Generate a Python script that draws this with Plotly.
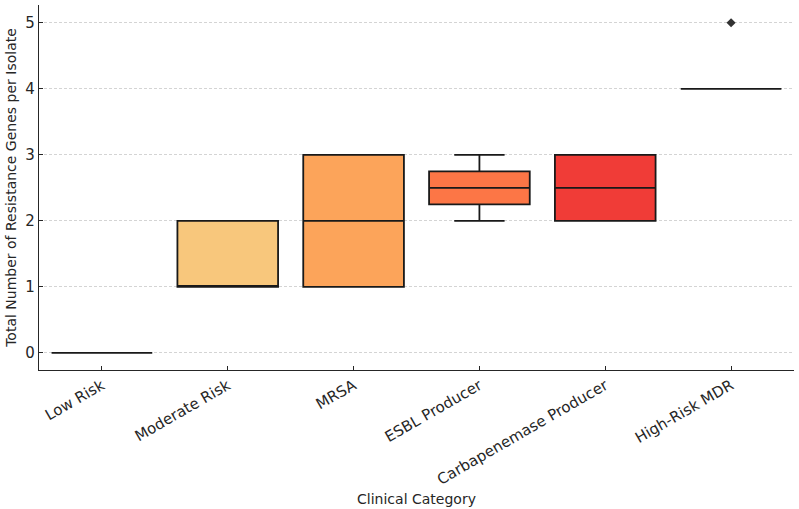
import plotly.graph_objects as go

categories = ["Low Risk", "Moderate Risk", "MRSA", "ESBL Producer",
              "Carbapenemase Producer", "High-Risk MDR"]
q1 = [0, 1, 1, 2.25, 2, 4]
median = [0, 1, 2, 2.5, 2.5, 4]
q3 = [0, 2, 3, 2.75, 3, 4]
lower = [0, 1, 1, 2, 2, 4]
upper = [0, 2, 3, 3, 3, 4]
outlier_cat = ["High-Risk MDR"]
outlier_val = [5]
colors = ["#fbe38a", "#f8c77c", "#fca45a", "#fc7646", "#f03c37", "#c8182a"]

fig = go.Figure()
for i, c in enumerate(categories):
    fig.add_trace(go.Box(
        x=[c], q1=[q1[i]], median=[median[i]], q3=[q3[i]],
        lowerfence=[lower[i]], upperfence=[upper[i]],
        fillcolor=colors[i], line=dict(color="rgb(25,25,25)", width=1.8),
        width=0.8, whiskerwidth=0.5, showlegend=False, boxpoints=False,
        hoverinfo="skip"))

fig.add_trace(go.Scatter(
    x=outlier_cat, y=outlier_val, mode="markers",
    marker=dict(symbol="diamond", size=7, color="rgb(50,50,50)"),
    showlegend=False, hoverinfo="skip"))

fig.update_layout(
    width=799, height=509,
    margin=dict(l=39, r=5, t=5, b=139),
    plot_bgcolor="white", paper_bgcolor="white",
    font=dict(family="DejaVu Sans", size=15, color="#262626"),
    boxmode="overlay",
)
fig.update_xaxes(
    categoryorder="array", categoryarray=categories,
    range=[-0.5, 5.5], tickangle=-30, automargin=False,
    showline=True, linecolor="#262626", linewidth=1.2,
    ticks="inside", ticklen=4, tickcolor="#262626",
    showgrid=False, zeroline=False,
    title=dict(text="Clinical Category", font=dict(size=14), standoff=6),
    tickfont=dict(size=15),
)
fig.update_yaxes(
    range=[-0.26, 5.27], tickvals=[0, 1, 2, 3, 4, 5], automargin=False,
    showline=True, linecolor="#262626", linewidth=1.2,
    ticks="inside", ticklen=4, tickcolor="#262626",
    showgrid=True, gridcolor="#d4d4d4", griddash="3px,2px", gridwidth=0.7,
    zeroline=False,
    title=dict(text="Total Number of Resistance Genes per Isolate",
               font=dict(size=14), standoff=5),
    tickfont=dict(size=15),
)
fig.write_html("out.html")
